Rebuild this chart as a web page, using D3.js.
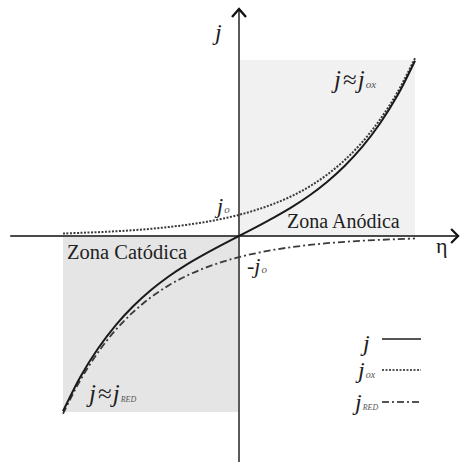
<!DOCTYPE html>
<html>
<head>
<meta charset="utf-8">
<script src="https://cdn.jsdelivr.net/npm/d3@7"></script>
<style>
  html, body { margin: 0; padding: 0; background: #fff; }
  svg { display: block; }
  text { font-family: "Liberation Serif", "DejaVu Serif", serif; fill: #1e1e1e; }
</style>
</head>
<body>
<svg id="chart" width="460" height="462"></svg>
<script>
// Overpotential (eta) samples and current densities (normalised units)
const eta    = [-1.0, -0.9, -0.8, -0.7, -0.6, -0.5, -0.4, -0.3, -0.2, -0.1, 0.0,
                 0.1, 0.2, 0.3, 0.4, 0.5, 0.6, 0.7, 0.8, 0.9, 1.0];
const jOx    = [0.014, 0.018, 0.022, 0.027, 0.033, 0.041, 0.051, 0.063, 0.078, 0.097, 0.120,
                0.149, 0.184, 0.227, 0.281, 0.348, 0.431, 0.533, 0.660, 0.816, 1.010];
const jRed   = [-1.010, -0.816, -0.660, -0.533, -0.431, -0.348, -0.281, -0.227, -0.184, -0.149, -0.120,
                -0.097, -0.078, -0.063, -0.051, -0.041, -0.033, -0.027, -0.022, -0.018, -0.014];
const jTotal = [-0.996, -0.798, -0.638, -0.506, -0.398, -0.307, -0.230, -0.164, -0.106, -0.052, 0.000,
                0.052, 0.106, 0.164, 0.230, 0.307, 0.398, 0.506, 0.638, 0.798, 0.996];

// Axis extents and zone boxes (data units)
const etaAxis = [-1.30, 1.245];
const jAxis   = [-1.30, 1.29];
const anodicZone   = { eta: [0, 1], j: [0, 1] };
const cathodicZone = { eta: [-1, 0], j: [-1, 0] };

const svg = d3.select("#chart");
const x = d3.scaleLinear().domain([-1, 1]).range([63, 415]);
const y = d3.scaleLinear().domain([-1, 1]).range([412, 60]);

// Shaded zones
svg.append("rect")
  .attr("x", x(anodicZone.eta[0])).attr("y", y(anodicZone.j[1]))
  .attr("width", x(anodicZone.eta[1]) - x(anodicZone.eta[0]))
  .attr("height", y(anodicZone.j[0]) - y(anodicZone.j[1]))
  .attr("fill", "#f1f1f1");
svg.append("rect")
  .attr("x", x(cathodicZone.eta[0])).attr("y", y(cathodicZone.j[1]))
  .attr("width", x(cathodicZone.eta[1]) - x(cathodicZone.eta[0]))
  .attr("height", y(cathodicZone.j[0]) - y(cathodicZone.j[1]))
  .attr("fill", "#e5e5e5");

// Axes
svg.append("line")
  .attr("x1", x(etaAxis[0])).attr("x2", x(etaAxis[1]))
  .attr("y1", y(0)).attr("y2", y(0))
  .attr("stroke", "#4a4a4a").attr("stroke-width", 2);
svg.append("line")
  .attr("x1", x(0)).attr("x2", x(0))
  .attr("y1", y(jAxis[0])).attr("y2", y(jAxis[1]))
  .attr("stroke", "#5a5a5a").attr("stroke-width", 2);

// Open arrow heads
const hx = x(etaAxis[1]), hy = y(0);
svg.append("path")
  .attr("d", `M${hx - 7},${hy - 7} L${hx},${hy} L${hx - 7},${hy + 7}`)
  .attr("fill", "none").attr("stroke", "#111").attr("stroke-width", 2.2);
const vx = x(0), vy = y(jAxis[1]);
svg.append("path")
  .attr("d", `M${vx - 7},${vy + 8} L${vx},${vy} L${vx + 7},${vy + 8}`)
  .attr("fill", "none").attr("stroke", "#111").attr("stroke-width", 2.4);

// Curves
const line = vals => d3.line()
  .x((d, i) => x(eta[i]))
  .y(d => y(d))
  .curve(d3.curveCatmullRom)(vals);

svg.append("path").attr("d", line(jOx))
  .attr("fill", "none").attr("stroke", "#3a3a3a").attr("stroke-width", 2)
  .attr("stroke-dasharray", "2,1.5");
svg.append("path").attr("d", line(jRed))
  .attr("fill", "none").attr("stroke", "#3a3a3a").attr("stroke-width", 1.8)
  .attr("stroke-dasharray", "7,3,2,3");
svg.append("path").attr("d", line(jTotal))
  .attr("fill", "none").attr("stroke", "#1a1a1a").attr("stroke-width", 2);

// Labels
function jLabel(px, py, size, sub, subSize, prefix) {
  const t = svg.append("text").attr("x", px).attr("y", py);
  if (prefix) t.append("tspan").attr("font-size", size).text(prefix);
  t.append("tspan").attr("font-style", "italic").attr("font-size", size).text("j");
  if (sub) {
    t.append("tspan").attr("font-style", "italic").attr("font-size", subSize)
      .attr("fill", "#555").attr("dx", 1).text(sub);
  }
  return t;
}

jLabel(215, 40, 24);                       // vertical axis title
svg.append("text").attr("x", 436).attr("y", 253).attr("font-size", 22).text("η");

// j ≈ j_ox
const tox = svg.append("text").attr("x", 334).attr("y", 88);
tox.append("tspan").attr("font-style", "italic").attr("font-size", 25).text("j");
tox.append("tspan").attr("font-size", 25).attr("dx", 2).text("≈");
tox.append("tspan").attr("font-style", "italic").attr("font-size", 25).attr("dx", 1).text("j");
tox.append("tspan").attr("font-style", "italic").attr("font-size", 11).attr("fill", "#555").attr("dx", 1).text("ox");

// j ≈ j_RED
const tred = svg.append("text").attr("x", 89).attr("y", 402);
tred.append("tspan").attr("font-style", "italic").attr("font-size", 25).text("j");
tred.append("tspan").attr("font-size", 25).attr("dx", 2).text("≈");
tred.append("tspan").attr("font-style", "italic").attr("font-size", 25).attr("dx", 1).text("j");
tred.append("tspan").attr("font-style", "italic").attr("font-size", 8).attr("fill", "#555").attr("dx", 1).text("RED");

jLabel(217, 213, 22, "o", 11);
jLabel(247, 273, 22, "o", 11, "-");

svg.append("text").attr("x", 287).attr("y", 228).attr("font-size", 20).text("Zona Anódica");
svg.append("text").attr("x", 67).attr("y", 259).attr("font-size", 20.5).text("Zona Catódica");

// Legend
const legend = [
  { sub: null,  dash: null,      ly: 339, ty: 351, tx: 363, sub_size: 0 },
  { sub: "ox",  dash: "2,1.5",   ly: 370, ty: 378, tx: 358, sub_size: 10 },
  { sub: "RED", dash: "7,3,2,3", ly: 402, ty: 410, tx: 355, sub_size: 8 }
];
legend.forEach(d => {
  jLabel(d.tx, d.ty, 24, d.sub, d.sub_size);
  svg.append("line")
    .attr("x1", 382).attr("x2", 421).attr("y1", d.ly).attr("y2", d.ly)
    .attr("stroke", "#555").attr("stroke-width", 2.2)
    .attr("stroke-dasharray", d.dash);
});
</script>
</body>
</html>
